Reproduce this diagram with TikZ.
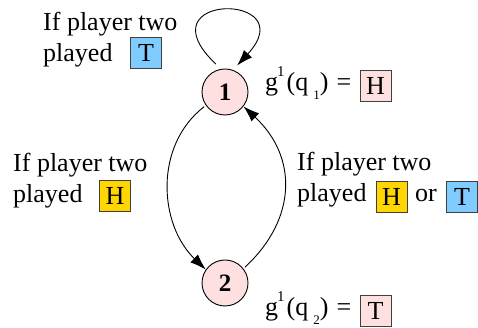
\documentclass[tikz,border=0pt]{standalone}
\usepackage{fontspec}
\setmainfont{Liberation Serif}
\usetikzlibrary{arrows.meta}
\definecolor{statepink}{RGB}{255,224,224}
\definecolor{tblue}{RGB}{128,204,255}
\definecolor{hgold}{RGB}{255,214,0}
\begin{document}
\begin{tikzpicture}[x=1pt,y=1pt,
  txt/.style={anchor=base west,inner sep=0pt,font=\fontsize{26}{31}\selectfont},
  state/.style={circle,draw,line width=0.9pt,fill=statepink,minimum size=46pt,inner sep=0pt,font=\fontsize{25}{25}\selectfont\bfseries},
  cbox/.style={draw=black!75,line width=0.8pt,minimum width=31pt,minimum height=31pt,inner sep=0pt,font=\fontsize{26}{31}\selectfont},
  edge/.style={line width=0.9pt,-{Latex[length=16pt,width=11pt]}}]
\useasboundingbox (0,0) rectangle (478,328);
\clip (0,0) rectangle (478,328);
% states
\node[state] (n1) at (225,236) {1};
\node[state] (n2) at (225,45) {2};
% connectors
\draw[edge,shorten <=7pt,shorten >=6pt] (n1.100) .. controls (140,336) and (305,336) .. (n1.70);
\draw[edge,shorten <=2pt] (n1.215) .. controls +(-52,-40) and +(-47,45) .. (n2.145);
\draw[edge,shorten <=2pt] (n2.38) .. controls +(54,50) and +(54,-50) .. (n1.-38);
% top-left label
\node[txt] (tl1) at (43,297) {If player two};
\node[txt] (tl2) at (43,266) {played};
\node[cbox,fill=tblue] (tlT) at (146,275) {T};
% left label
\node[txt] (ll1) at (13,156) {If player two};
\node[txt] (ll2) at (13,125) {played};
\node[cbox,fill=hgold] (llH) at (115,132) {H};
% right label
\node[txt] (rl1) at (297,157) {If player two};
\node[txt] (rl2) at (297,126) {played};
\node[cbox,fill=hgold] (rlH) at (391.5,131) {H};
\node[txt] (rlor) at (415,126) {or};
\node[cbox,fill=tblue] (rlT) at (462,131) {T};
% output labels
\node[txt] (g1) at (265,237) {g\hspace{-1pt}\raisebox{14pt}{\fontsize{15}{15}\selectfont 1}\hspace{2pt}(q\hspace{5pt}\raisebox{-9pt}{\fontsize{13}{13}\selectfont 1})\hspace{8pt}=};
\node[cbox,fill=statepink] (g1H) at (375.5,242) {H};
\node[txt] (g2) at (265,12) {g\hspace{-1pt}\raisebox{14pt}{\fontsize{15}{15}\selectfont 1}\hspace{2pt}(q\hspace{5pt}\raisebox{-9pt}{\fontsize{13}{13}\selectfont 2})\hspace{8pt}=};
\node[cbox,fill=statepink] (g2T) at (375.5,17) {T};
\end{tikzpicture}
\end{document}
